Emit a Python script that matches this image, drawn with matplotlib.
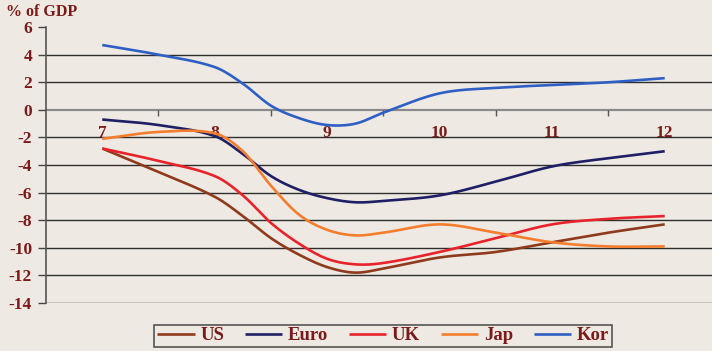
import numpy as np
import matplotlib
matplotlib.use("Agg")
import matplotlib.pyplot as plt

# Fiscal balance, % of GDP (x = year, 2007..2012)
years = [7, 7.5, 8, 8.25, 8.5, 8.75, 9, 9.25, 9.5, 10, 10.5, 11, 11.5, 12]
us   = [-2.8, -4.5, -6.3, -7.7, -9.3, -10.5, -11.4, -11.8, -11.5, -10.7, -10.3, -9.6, -8.9, -8.3]
euro = [-0.7, -1.1, -1.9, -3.2, -4.8, -5.8, -6.4, -6.7, -6.6, -6.2, -5.2, -4.1, -3.5, -3.0]
uk   = [-2.8, -3.7, -4.8, -6.2, -8.2, -9.7, -10.8, -11.2, -11.1, -10.3, -9.3, -8.3, -7.9, -7.7]
jap  = [-2.1, -1.6, -1.7, -3.0, -5.5, -7.6, -8.7, -9.1, -8.9, -8.3, -8.9, -9.6, -9.9, -9.9]
kor  = [4.7, 4.0, 3.1, 1.9, 0.3, -0.6, -1.1, -1.0, -0.2, 1.2, 1.6, 1.8, 2.0, 2.3]

series = [("US", us, "#8f3a1c"), ("Euro", euro, "#1f1f66"), ("UK", uk, "#e8232b"),
          ("Jap", jap, "#f57d2e"), ("Kor", kor, "#2f5fc4")]
year_labels = ["7", "8", "9", "10", "11", "12"]
y_ticks = list(range(-14, 7, 2))

text_color = "#7a1a1a"
bg = "#eeeae3"


def smooth(x, y, n=30):
    """Cubic Hermite curve with Catmull-Rom style tangents."""
    x = np.asarray(x, float)
    y = np.asarray(y, float)
    m = np.empty_like(y)
    m[1:-1] = (y[2:] - y[:-2]) / (x[2:] - x[:-2])
    m[0] = (y[1] - y[0]) / (x[1] - x[0])
    m[-1] = (y[-1] - y[-2]) / (x[-1] - x[-2])
    xs, ys = [], []
    for i in range(len(x) - 1):
        h = x[i + 1] - x[i]
        t = np.linspace(0, 1, n, endpoint=False)
        h00 = 2 * t**3 - 3 * t**2 + 1
        h10 = t**3 - 2 * t**2 + t
        h01 = -2 * t**3 + 3 * t**2
        h11 = t**3 - t**2
        xs.append(x[i] + t * h)
        ys.append(h00 * y[i] + h10 * h * m[i] + h01 * y[i + 1] + h11 * h * m[i + 1])
    xs.append([x[-1]])
    ys.append([y[-1]])
    return np.concatenate(xs), np.concatenate(ys)


fig = plt.figure(figsize=(7.12, 3.51), dpi=100, facecolor=bg)
ax = fig.add_axes([0.0646, 0.1368, 0.948, 0.786])
ax.set_facecolor(bg)
ax.set_xlim(6.5, 12.5)
ax.set_ylim(-14, 6)

# horizontal gridlines
for v in y_ticks[:-1]:
    if v == 0:
        continue
    ax.axhline(v, color="#2e2e2e", lw=1.0, zorder=1)

for name, vals, col in series:
    xs, ys = smooth(years, vals)
    ax.plot(xs, ys, color=col, lw=1.9, label=name, zorder=3, solid_capstyle="butt")

serif = ["Liberation Serif", "DejaVu Serif"]

# spines
for s in ["top", "right"]:
    ax.spines[s].set_visible(False)
ax.spines["left"].set_color("#555555")
ax.spines["left"].set_linewidth(1.2)
ax.spines["bottom"].set_position(("data", 0))
ax.spines["bottom"].set_color("#8a8a8a")
ax.spines["bottom"].set_linewidth(1.6)
ax.spines["bottom"].set_zorder(1)

ax.set_yticks(y_ticks)
ax.set_yticklabels([str(v) for v in y_ticks], fontfamily=serif, fontweight="bold",
                   fontsize=12.5, color=text_color)
ax.tick_params(axis="y", length=6, width=1, color="#444444", pad=4)

ax.set_xticks(range(7, 13))
ax.set_xticklabels(year_labels, fontfamily=serif, fontweight="bold",
                   fontsize=12.5, color=text_color)
ax.set_xticks(np.arange(7.5, 12.5, 1.0), minor=True)
ax.tick_params(axis="x", which="major", length=0, pad=11)
ax.tick_params(axis="x", which="minor", length=4, width=1, color="#555555", direction="out")

fig.text(0.008, 0.965, "% of GDP", fontfamily=serif, fontweight="bold", fontsize=11.5,
         color=text_color, va="center", ha="left")

leg = fig.legend(loc="center", bbox_to_anchor=(0.538, 0.043), ncol=5, frameon=True,
                 fancybox=False, edgecolor="#555555", facecolor=bg, framealpha=1,
                 prop={"family": serif, "weight": "bold", "size": 13.5},
                 handlelength=2.0, handletextpad=0.3, columnspacing=1.1,
                 borderpad=0.15, borderaxespad=0)
leg.get_frame().set_linewidth(1.2)
for t in leg.get_texts():
    t.set_color(text_color)

fig.savefig("out.png", dpi=100, facecolor=bg)
